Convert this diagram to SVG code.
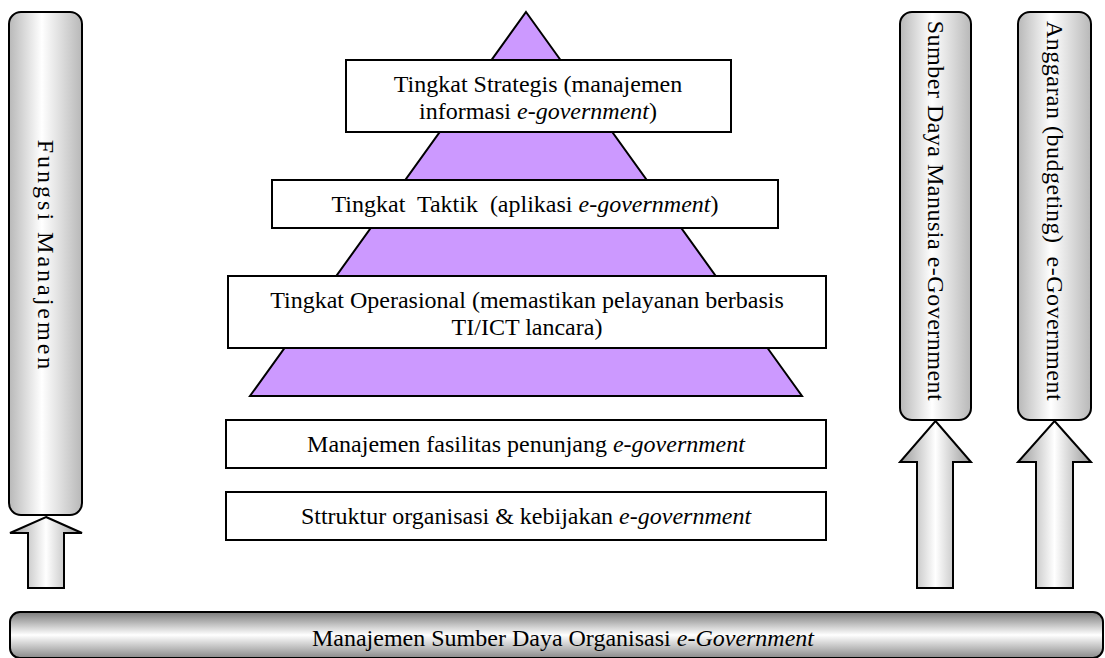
<svg xmlns="http://www.w3.org/2000/svg" width="1105" height="658" viewBox="0 0 1105 658">
<defs>
<linearGradient id="gv" x1="0" y1="0" x2="1" y2="0">
<stop offset="0" stop-color="#b8b8b8"/>
<stop offset="0.45" stop-color="#ffffff"/>
<stop offset="1" stop-color="#b8b8b8"/>
</linearGradient>
<linearGradient id="ga" x1="0" y1="0" x2="1" y2="0">
<stop offset="0" stop-color="#9a9a9a"/>
<stop offset="0.5" stop-color="#ffffff"/>
<stop offset="1" stop-color="#9a9a9a"/>
</linearGradient>
<linearGradient id="gh" x1="0" y1="0" x2="0" y2="1">
<stop offset="0" stop-color="#7a7a7a"/>
<stop offset="0.5" stop-color="#ffffff"/>
<stop offset="1" stop-color="#8a8a8a"/>
</linearGradient>
<style>
.bar{fill:url(#gv);stroke:#000;stroke-width:2}
.arr{fill:url(#ga);stroke:#000;stroke-width:2}
.box{fill:#fff;stroke:#000;stroke-width:2}
text{font-family:'Liberation Serif','DejaVu Serif',serif;font-size:24px;fill:#000}
.c{text-anchor:middle}
.i{font-style:italic}
.v{letter-spacing:0.5px}
</style>
</defs>
<g id="pyramid">
<polygon points="526,12 802,396 250,396" fill="#cc99ff" stroke="#000" stroke-width="2"/>
</g>
<g id="connectors">
<path class="arr" d="M46,517 L82,533 L64,533 L64,588 L28,588 L28,533 L10,533 Z"/>
<path class="arr" d="M935.5,421 L971,462 L953,462 L953,588 L917,588 L917,462 L900,462 Z"/>
<path class="arr" d="M1054.5,421 L1091,462 L1073,462 L1073,588 L1036,588 L1036,462 L1018,462 Z"/>
</g>
<g id="fungsi">
<rect class="bar" x="9" y="12" width="73" height="503" rx="12"/>
<text class="c" letter-spacing="3" transform="translate(46,256) rotate(90)" dy="0.33em">Fungsi Manajemen</text>
</g>
<g id="sdm">
<rect class="bar" x="900" y="12" width="71" height="408" rx="12"/>
<text class="c v" transform="translate(935.5,211) rotate(90)" dy="0.33em">Sumber Daya Manusia e-Government</text>
</g>
<g id="anggaran">
<rect class="bar" x="1018" y="12" width="73" height="408" rx="12"/>
<text class="c v" transform="translate(1054.5,211) rotate(90)" dy="0.33em" xml:space="preserve">Anggaran (budgeting)  e-Government</text>
</g>
<g id="strategis">
<rect class="box" x="346" y="60" width="385" height="72"/>
<text class="c" x="538" y="92">Tingkat Strategis (manajemen</text>
<text class="c" x="538" y="119">informasi <tspan class="i">e-government</tspan>)</text>
</g>
<g id="taktik">
<rect class="box" x="272" y="180" width="506" height="48"/>
<text class="c" x="525" y="212" xml:space="preserve">Tingkat  Taktik  (aplikasi <tspan class="i">e-government</tspan>)</text>
</g>
<g id="operasional">
<rect class="box" x="228" y="276" width="598" height="72"/>
<text class="c" x="527" y="308">Tingkat Operasional (memastikan pelayanan berbasis</text>
<text class="c" x="527" y="335">TI/ICT lancara)</text>
</g>
<g id="fasilitas">
<rect class="box" x="226" y="420" width="600" height="48"/>
<text class="c" x="526" y="452">Manajemen fasilitas penunjang <tspan class="i">e-government</tspan></text>
</g>
<g id="struktur">
<rect class="box" x="226" y="492" width="600" height="48"/>
<text class="c" x="526" y="524">Sttruktur organisasi &amp; kebijakan <tspan class="i">e-government</tspan></text>
</g>
<g id="organisasi">
<rect x="10" y="612" width="1093" height="46" rx="10" fill="url(#gh)" stroke="#000" stroke-width="2"/>
<text class="c" x="563" y="646">Manajemen Sumber Daya Organisasi <tspan class="i">e-Government</tspan></text>
</g>
</svg>
